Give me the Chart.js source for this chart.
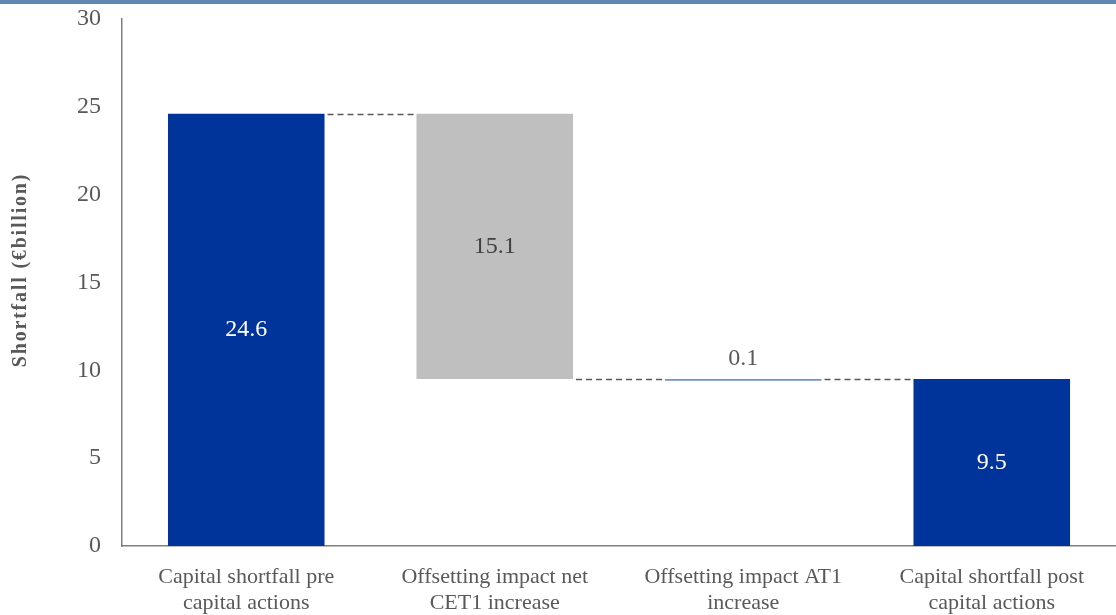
<!DOCTYPE html>
<html lang="en">
<head>
    <meta charset="UTF-8">
    <title>Shortfall waterfall</title>
    <script src="https://cdn.jsdelivr.net/npm/chart.js"></script>
    <style>
        html, body {
            margin: 0;
            padding: 0;
            background: #fff;
        }

        .topband {
            position: absolute;
            left: 0;
            top: 0;
            width: 1116px;
            height: 4px;
            background-color: #5f87b0;
        }

        .wrap {
            position: relative;
            width: 1116px;
            height: 615px;
        }
    </style>
</head>
<body>
    <div class="wrap">
        <canvas id="chart" width="1116" height="615"></canvas>
        <div class="topband"></div>
    </div>
    <script>
        // data
        const categories = [
            ['Capital shortfall pre', 'capital actions'],
            ['Offsetting impact net', 'CET1 increase'],
            ['Offsetting impact AT1', 'increase'],
            ['Capital shortfall post', 'capital actions']
        ];
        const startValue = 24.6;
        const steps = [-15.1, -0.1];
        const endValue = 9.5;
        const valueLabels = ['24.6', '15.1', '0.1', '9.5'];
        const yTicks = [0, 5, 10, 15, 20, 25, 30];
        const yTitle = 'Shortfall (€billion)';

        // build floating bars
        const bars = [[0, startValue]];
        let level = startValue;
        steps.forEach(s => {
            bars.push([level + s, level]);
            level = level + s;
        });
        bars.push([0, endValue]);

        const colors = ['#00349a', '#bfbfbf', '#6f92d0', '#00349a'];
        const labelColors = ['#ffffff', '#404040', '#595959', '#ffffff'];
        const serif = '"Liberation Serif", "Times New Roman", serif';

        // dashed connectors, value labels, spaced axis title
        const waterfallExtras = {
            id: 'waterfallExtras',
            afterDatasetsDraw(chart) {
                const ctx = chart.ctx;
                const meta = chart.getDatasetMeta(0);
                const y = chart.scales.y;
                ctx.save();
                ctx.strokeStyle = '#595959';
                ctx.lineWidth = 1.3;
                ctx.setLineDash([6, 4]);
                const levels = [startValue, startValue + steps[0], startValue + steps[0]];
                for (let i = 0; i < meta.data.length - 1; i++) {
                    const a = meta.data[i], b = meta.data[i + 1];
                    const yy = Math.round(y.getPixelForValue(levels[i])) + 0.5;
                    ctx.beginPath();
                    ctx.moveTo(a.x + a.width / 2 + 3, yy);
                    ctx.lineTo(b.x - b.width / 2 - 2, yy);
                    ctx.stroke();
                }
                ctx.setLineDash([]);

                ctx.font = '24px ' + serif;
                ctx.textAlign = 'center';
                ctx.textBaseline = 'middle';
                meta.data.forEach((bar, i) => {
                    ctx.fillStyle = labelColors[i];
                    let ly = (bar.y + bar.base) / 2;
                    if (i === 2) ly = Math.min(bar.y, bar.base) - 20;
                    ctx.fillText(valueLabels[i], bar.x, ly);
                });

                // rotated y title
                ctx.translate(21, 270);
                ctx.rotate(-Math.PI / 2);
                ctx.font = 'bold 20px ' + serif;
                ctx.letterSpacing = '1.8px';
                ctx.fillStyle = '#595959';
                ctx.fillText(yTitle, 0, 0);
                ctx.restore();
            }
        };

        new Chart(document.getElementById('chart').getContext('2d'), {
            type: 'bar',
            data: {
                labels: categories,
                datasets: [{
                    data: bars,
                    backgroundColor: colors,
                    categoryPercentage: 1,
                    barPercentage: 0.63,
                    borderWidth: 0
                }]
            },
            options: {
                responsive: false,
                animation: false,
                layout: {
                    padding: { top: 19, right: 0, left: 0, bottom: 0 }
                },
                plugins: {
                    legend: { display: false },
                    tooltip: { enabled: false }
                },
                scales: {
                    x: {
                        grid: { display: false },
                        border: { display: true, color: '#7f7f7f', width: 1.5 },
                        ticks: {
                            color: '#595959',
                            font: { family: serif, size: 22 },
                            padding: 10,
                            maxRotation: 0,
                            autoSkip: false
                        },
                        afterFit(scale) { scale.height = 69; }
                    },
                    y: {
                        min: 0,
                        max: 30,
                        grid: { display: false },
                        border: { display: true, color: '#7f7f7f', width: 1.5 },
                        afterBuildTicks(scale) {
                            scale.ticks = yTicks.map(v => ({ value: v }));
                        },
                        ticks: {
                            color: '#595959',
                            font: { family: serif, size: 24 },
                            padding: 13
                        },
                        afterFit(scale) {
                            scale.width = 122;
                            scale.paddingTop = 0;
                            scale.paddingBottom = 0;
                        }
                    }
                }
            },
            plugins: [waterfallExtras]
        });
    </script>
</body>
</html>
